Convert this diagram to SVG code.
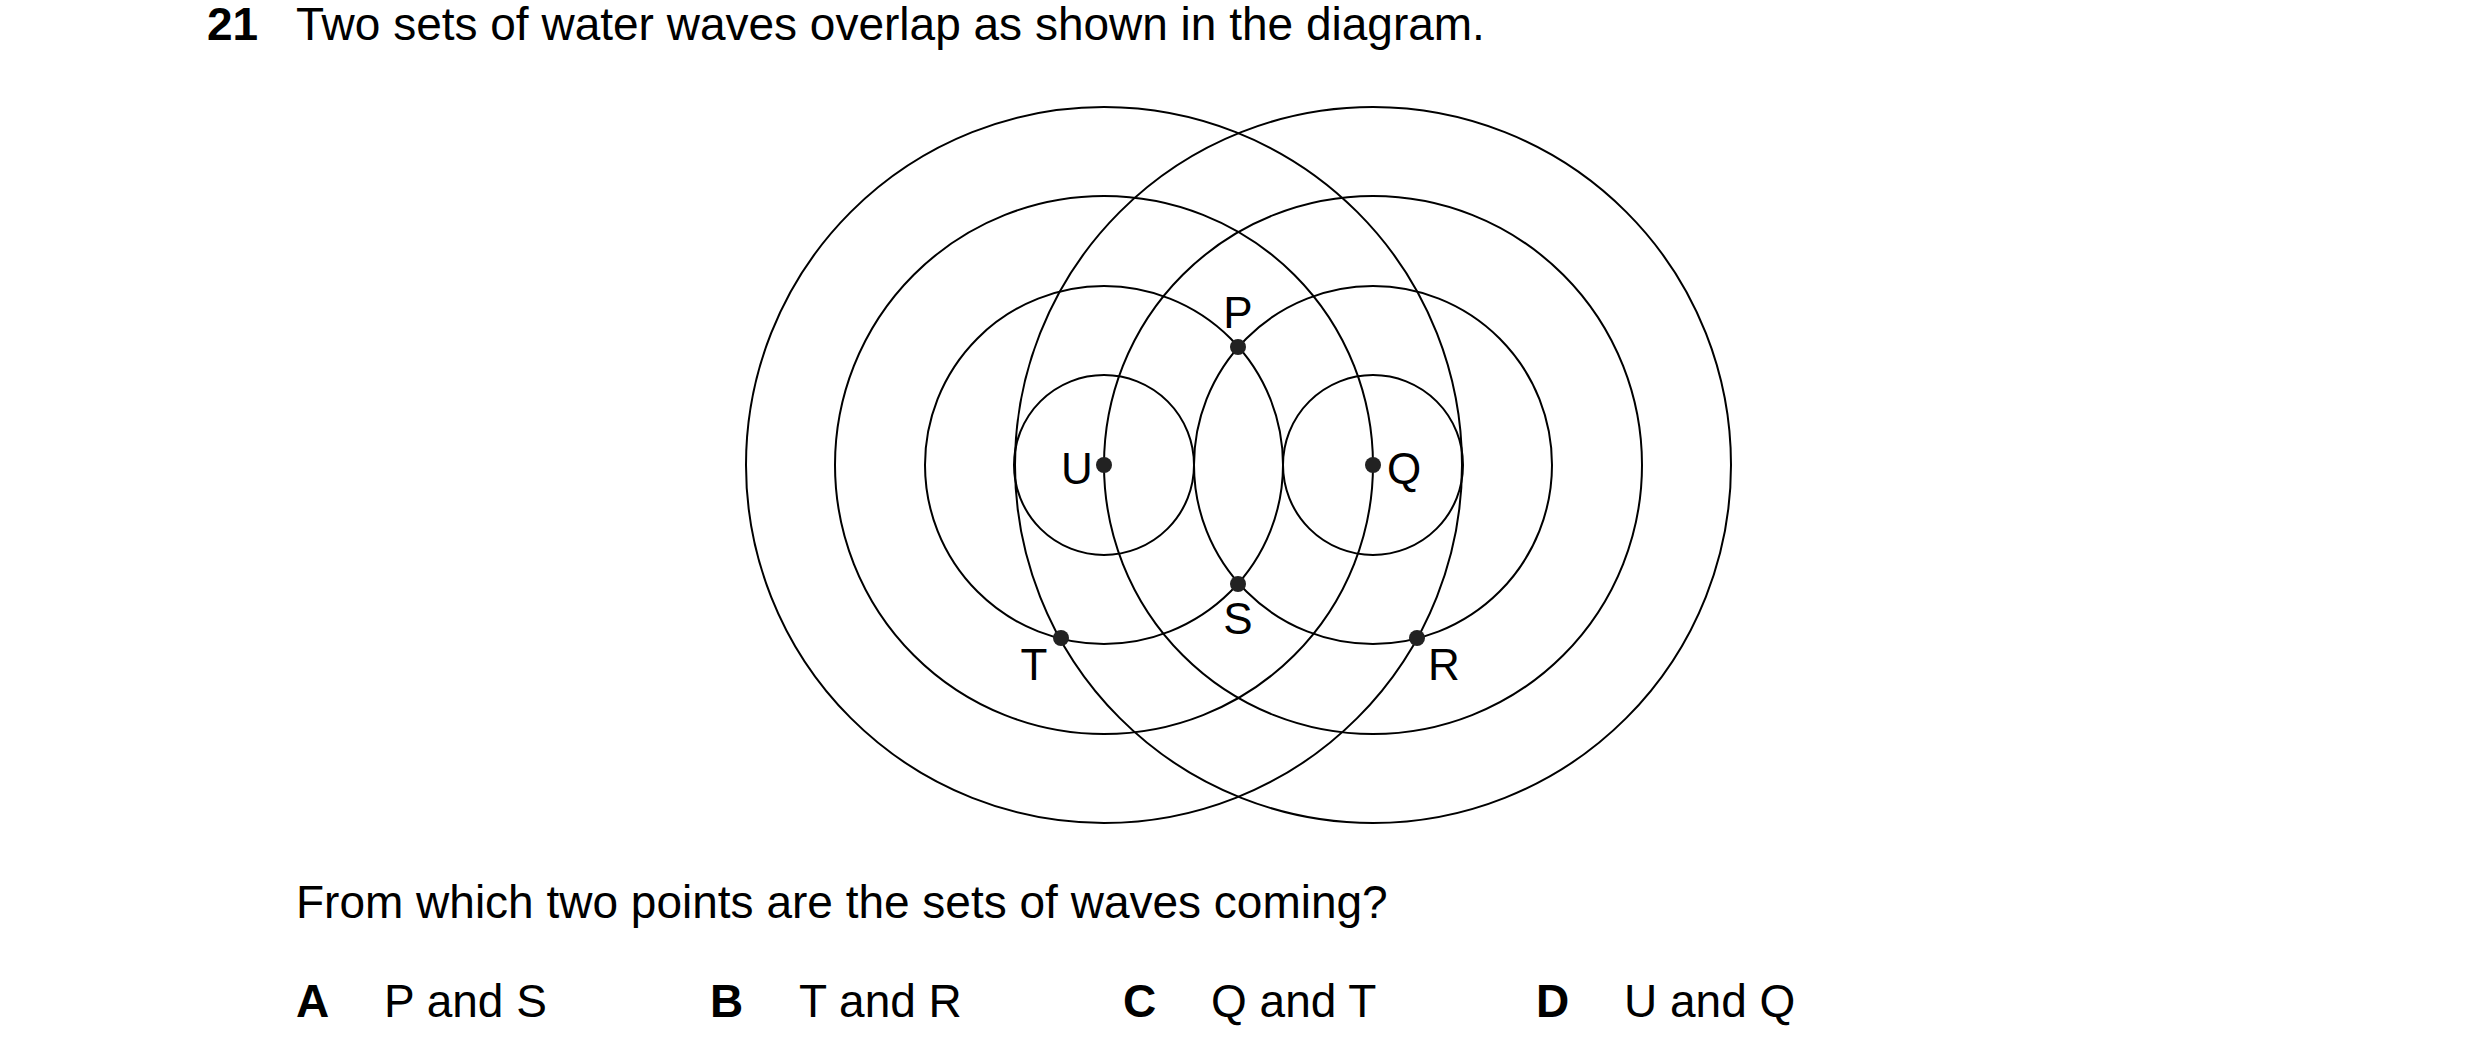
<svg xmlns="http://www.w3.org/2000/svg" width="2480" height="1061" viewBox="0 0 2480 1061">
<style>
text{font-family:"Liberation Sans",Arial,sans-serif;font-size:46px;fill:#000}
.b{font-weight:bold}
.l{font-size:44px;text-anchor:middle}
circle.w{fill:none;stroke:#000;stroke-width:2}
circle.d{fill:#222}
</style>
<rect width="2480" height="1061" fill="#fff"/>
<text class="b" x="207" y="40">21</text>
<text x="296" y="40">Two sets of water waves overlap as shown in the diagram.</text>
<g id="waves">
<circle class="w" cx="1104" cy="465" r="90"/>
<circle class="w" cx="1104" cy="465" r="179"/>
<circle class="w" cx="1104" cy="465" r="269"/>
<circle class="w" cx="1104" cy="465" r="358"/>
<circle class="w" cx="1373" cy="465" r="90"/>
<circle class="w" cx="1373" cy="465" r="179"/>
<circle class="w" cx="1373" cy="465" r="269"/>
<circle class="w" cx="1373" cy="465" r="358"/>
</g>
<g id="U"><circle class="d" cx="1104" cy="465" r="8"/><text class="l" x="1077" y="484">U</text></g>
<g id="Q"><circle class="d" cx="1373" cy="465" r="8"/><text class="l" x="1404" y="484">Q</text></g>
<g id="P"><circle class="d" cx="1238" cy="347" r="8"/><text class="l" x="1238" y="328">P</text></g>
<g id="S"><circle class="d" cx="1238" cy="584" r="8"/><text class="l" x="1238" y="634">S</text></g>
<g id="T"><circle class="d" cx="1061" cy="638" r="8"/><text class="l" x="1034" y="680">T</text></g>
<g id="R"><circle class="d" cx="1417" cy="638" r="8"/><text class="l" x="1444" y="680">R</text></g>
<text x="296" y="918">From which two points are the sets of waves coming?</text>
<text class="b" x="296" y="1017">A</text><text x="384" y="1017">P and S</text>
<text class="b" x="710" y="1017">B</text><text x="799" y="1017">T and R</text>
<text class="b" x="1123" y="1017">C</text><text x="1211" y="1017">Q and T</text>
<text class="b" x="1536" y="1017">D</text><text x="1624" y="1017">U and Q</text>
</svg>
